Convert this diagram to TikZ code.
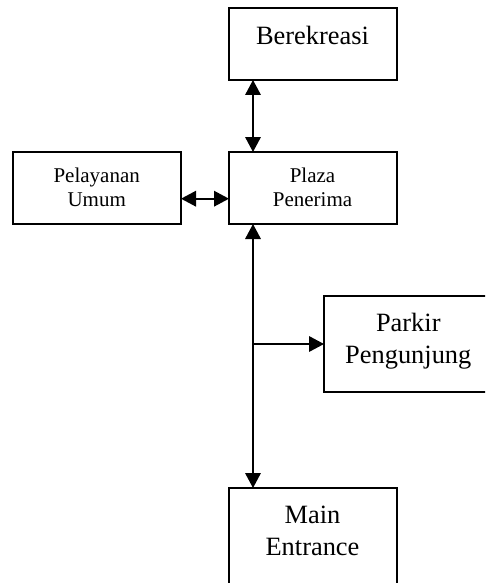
\documentclass[tikz,border=0pt]{standalone}
\usepackage{fontspec}
\setmainfont{Liberation Serif}
\usetikzlibrary{arrows.meta}
\begin{document}
\begin{tikzpicture}[x=1pt,y=-1pt,
  box/.style={draw, line width=1.6pt, minimum width=168pt, minimum height=72pt, inner sep=0pt, outer sep=0pt},
  lbl/.style={anchor=base, inner sep=0pt},
  big/.style={font=\fontsize{26.4}{31.7}\selectfont},
  small/.style={font=\fontsize{21}{24}\selectfont},
  conn/.style={line width=1.8pt, -{Triangle[width=15.5pt,length=15pt]}},
  dconn/.style={line width=1.8pt, {Triangle[width=15.5pt,length=15pt]}-{Triangle[width=15.5pt,length=15pt]}}]
\useasboundingbox (0,0) rectangle (485,583);
\clip (0,0) rectangle (485,583);
\node[box] (ber) at (313,44) {};
\node[box] (pu) at (97,188) {};
\node[box] (pl) at (313,188) {};
\node[box, minimum height=96pt] (pk) at (408,344) {};
\node[box, minimum height=110pt] (me) at (313,543) {};
\node[lbl, big] (tber) at (312.5,44.3) {Berekreasi};
\node[lbl, small] (tpu1) at (96.7,182.7) {Pelayanan};
\node[lbl, small] (tpu2) at (96.7,206.7) {Umum};
\node[lbl, small] (tpl1) at (312.5,182.7) {Plaza};
\node[lbl, small] (tpl2) at (312.5,206.7) {Penerima};
\node[lbl, big] (tpk1) at (408.3,331) {Parkir};
\node[lbl, big] (tpk2) at (408.3,363.3) {Pengunjung};
\node[lbl, big] (tme1) at (312.5,523.3) {Main};
\node[lbl, big] (tme2) at (312.5,555) {Entrance};
\coordinate (br) at (253,344);
\draw[dconn] ([xshift=24pt]ber.south west) -- ([xshift=24pt]pl.north west);
\draw[dconn] ([yshift=-10.7pt]pu.east) -- ([yshift=-10.7pt]pl.west);
\draw[dconn] ([xshift=24pt]pl.south west) -- ([xshift=24pt]me.north west);
\draw[conn] (br) -- (pk.west);
\end{tikzpicture}
\end{document}
